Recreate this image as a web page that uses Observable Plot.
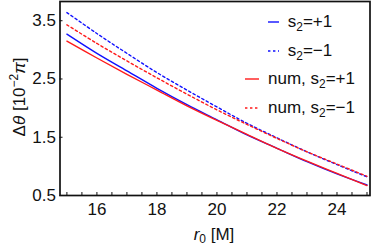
<!DOCTYPE html>
<html>
<head>
<meta charset="utf-8">
<script src="https://cdn.jsdelivr.net/npm/d3@7"></script>
<script src="https://cdn.jsdelivr.net/npm/@observablehq/plot@0.6"></script>
<style>
  html, body { margin: 0; padding: 0; background: #fff; }
  #wrap { position: relative; width: 374px; height: 248px; font-family: "Liberation Sans", Arial, sans-serif; }
  #legend { position: absolute; left: 230px; top: 8px; width: 140px; font-size: 17px; color: #111; }
  .row { display: flex; align-items: center; justify-content: center; height: 28.6px; }
  .row svg { margin-right: 9px; }
  .sub { font-size: 0.7em; position: relative; top: 0.32em; }
</style>
</head>
<body>
<div id="wrap"><div id="legend"></div></div>
<script>
// Data
const r0 = [15, 16, 17, 18, 19, 20, 21, 22, 23, 24, 25];
const sPlus  = [3.27, 2.94, 2.64, 2.34, 2.06, 1.80, 1.54, 1.31, 1.08, 0.87, 0.68];
const sMinus = [3.64, 3.28, 2.94, 2.61, 2.31, 2.02, 1.74, 1.49, 1.25, 1.03, 0.82];
const numPlus  = [3.15, 2.86, 2.58, 2.31, 2.04, 1.79, 1.55, 1.31, 1.09, 0.88, 0.67];
const numMinus = [3.43, 3.11, 2.81, 2.52, 2.24, 1.97, 1.72, 1.48, 1.25, 1.04, 0.83];
const xTicks = [16, 18, 20, 22, 24];
const xMinor = [15, 15.5, 16, 16.5, 17, 17.5, 18, 18.5, 19, 19.5, 20, 20.5, 21, 21.5, 22, 22.5, 23, 23.5, 24, 24.5, 25];
const yTicks = [0.5, 1.5, 2.5, 3.5];
const seriesNames = ["s2=+1", "s2=-1", "num, s2=+1", "num, s2=-1"];

const series = [
  {name: seriesNames[0], ys: sPlus,   color: "#1010ff", dash: null},
  {name: seriesNames[1], ys: sMinus,  color: "#1010ff", dash: "2.4,2.6"},
  {name: seriesNames[2], ys: numPlus, color: "#ff1a1a", dash: null},
  {name: seriesNames[3], ys: numMinus,color: "#ff1a1a", dash: "2.4,2.6"}
];
const drawOrder = [1, 0, 3, 2];

const xDom = [14.77, 25.1], yDom = [0.5, 3.83];
const tickLenY = 3 * (yDom[1] - yDom[0]) / 194;
const tickLenX = 3 * (xDom[1] - xDom[0]) / 310;

const marks = [];
for (const i of drawOrder) {
  const s = series[i];
  const data = r0.map((x, k) => ({x, y: s.ys[k]}));
  marks.push(Plot.line(data, {x: "x", y: "y", stroke: s.color, strokeWidth: 1.4,
    strokeDasharray: s.dash || undefined, curve: "catmull-rom"}));
}
marks.push(Plot.ruleX(xMinor, {y1: yDom[0], y2: yDom[0] + tickLenY, stroke: "#111", strokeWidth: 1}));
marks.push(Plot.ruleY(yTicks, {x1: xDom[0], x2: xDom[0] + tickLenX, stroke: "#111", strokeWidth: 1}));
marks.push(Plot.axisX({ticks: xTicks, tickSize: 0, tickPadding: 7, tickFormat: d => String(d), fontSize: 17, label: null}));
marks.push(Plot.axisY({ticks: yTicks, tickSize: 0, tickPadding: 4, tickFormat: d => d.toFixed(1), fontSize: 17, label: null}));
marks.push(Plot.frame({stroke: "#111", strokeWidth: 1.7}));

const chart = Plot.plot({
  width: 374, height: 248,
  marginLeft: 59.5, marginRight: 4.5, marginTop: 1, marginBottom: 53,
  x: {domain: xDom},
  y: {domain: yDom},
  style: {fontFamily: "'Liberation Sans', Arial, sans-serif", color: "#111", background: "#fff", overflow: "visible"},
  marks
});
document.getElementById("wrap").prepend(chart);

// Axis titles with rich text
const svg = d3.select(chart);
const xl = svg.append("text").attr("x", 214).attr("y", 240).attr("text-anchor", "middle")
  .attr("font-size", 17).attr("fill", "#111");
xl.append("tspan").attr("font-style", "italic").text("r");
xl.append("tspan").attr("font-size", "12").attr("dy", 3).text("0");
xl.append("tspan").attr("dy", -3).text(" [M]");

const yl = svg.append("text").attr("transform", "translate(25,97) rotate(-90)").attr("text-anchor", "middle")
  .attr("font-size", 17).attr("fill", "#111");
yl.append("tspan").text("Δ");
yl.append("tspan").attr("font-style", "italic").text("θ");
yl.append("tspan").text(" [10");
yl.append("tspan").attr("font-size", "12").attr("dy", -7).text("−2");
yl.append("tspan").attr("dy", 7).attr("font-style", "italic").text("π");
yl.append("tspan").text("]");

// Legend
const legend = document.getElementById("legend");
const labels = [
  ["", "+1"], ["", "−1"], ["num, ", "+1"], ["num, ", "−1"]
];
series.forEach((s, i) => {
  const row = document.createElement("div");
  row.className = "row";
  const w = i < 2 ? 11 : 14;
  row.innerHTML = `<svg width="${w}" height="4"><line x1="0" x2="${w}" y1="2" y2="2" stroke="${s.color}" stroke-width="1.4" ${s.dash ? `stroke-dasharray="${s.dash}"` : ""}/></svg>` +
    `<span>${labels[i][0]}s<span class="sub">2</span>=${labels[i][1]}</span>`;
  legend.appendChild(row);
});
</script>
</body>
</html>
